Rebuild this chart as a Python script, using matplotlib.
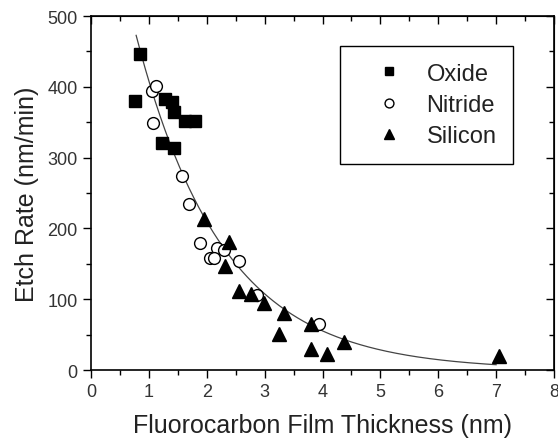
import numpy as np
import matplotlib
matplotlib.use("Agg")
import matplotlib.pyplot as plt
from matplotlib.ticker import MultipleLocator

plt.rcParams['font.family'] = ['Liberation Sans', 'DejaVu Sans']

oxide_x = [0.76, 0.85, 1.22, 1.28, 1.40, 1.43, 1.44, 1.63, 1.80]
oxide_y = [380, 447, 320, 383, 378, 364, 314, 352, 352]

nitride_x = [1.05, 1.13, 1.07, 1.57, 1.70, 1.89, 2.17, 2.29, 2.05, 2.12, 2.55, 2.87, 3.94]
nitride_y = [394, 401, 349, 274, 235, 179, 173, 169, 158, 158, 154, 106, 65]

silicon_x = [1.96, 2.38, 2.31, 2.55, 2.76, 2.99, 3.33, 3.25, 3.80, 3.80, 4.08, 4.37, 7.05]
silicon_y = [213, 181, 147, 111, 108, 94, 80, 51, 65, 30, 23, 39, 20]

fit_amp = 795.0
fit_len = 1.5
fit_range = (0.78, 7.0)

fig = plt.figure(figsize=(5.58, 4.39), dpi=100)
ax = fig.add_axes([91/558, 1 - 371/439, (554-91)/558, (371-17)/439])

xf = np.linspace(fit_range[0], fit_range[1], 300)
ax.plot(xf, fit_amp * np.exp(-xf / fit_len), color='#444444', lw=0.9, zorder=1)

ax.plot(oxide_x, oxide_y, 's', color='black', ms=8.5, ls='none', label='Oxide', zorder=3)
ax.plot(nitride_x, nitride_y, 'o', mfc='white', mec='black', mew=1.0, ms=8.5, ls='none', label='Nitride', zorder=3)
ax.plot(silicon_x, silicon_y, '^', color='black', ms=10, ls='none', label='Silicon', zorder=3)

ax.set_xlim(0, 8)
ax.set_ylim(0, 500)
ax.xaxis.set_major_locator(MultipleLocator(1))
ax.xaxis.set_minor_locator(MultipleLocator(0.5))
ax.yaxis.set_major_locator(MultipleLocator(100))
ax.yaxis.set_minor_locator(MultipleLocator(50))

ax.tick_params(which='both', direction='out', top=False, right=False, labelsize=13, width=1.0,
               colors='black', labelcolor='#333333')
ax.tick_params(which='major', length=6)
ax.tick_params(which='minor', length=3.5)

axt = ax.secondary_xaxis('top')
axt.xaxis.set_major_locator(MultipleLocator(1))
axt.xaxis.set_minor_locator(MultipleLocator(0.5))
axt.tick_params(which='both', direction='in', labeltop=False, width=1.0)
axt.tick_params(which='major', length=6)
axt.tick_params(which='minor', length=3.5)
axr = ax.secondary_yaxis('right')
axr.yaxis.set_major_locator(MultipleLocator(100))
axr.yaxis.set_minor_locator(MultipleLocator(50))
axr.tick_params(which='both', direction='in', labelright=False, width=1.0)
axr.tick_params(which='major', length=6)
axr.tick_params(which='minor', length=3.5)

for s in ax.spines.values():
    s.set_linewidth(1.2)

ax.set_xlabel('Fluorocarbon Film Thickness (nm)', fontsize=18, color='#222222', labelpad=9)
ax.set_ylabel('Etch Rate (nm/min)', fontsize=18, color='#222222', labelpad=6)

leg = ax.legend(loc='upper right', bbox_to_anchor=(513/558, 1 - 47/439),
                bbox_transform=fig.transFigure, frameon=True,
                fontsize=17, markerscale=0.75, handletextpad=0.25, labelspacing=0.4,
                borderpad=0.7, borderaxespad=0, fancybox=False, edgecolor='black',
                handlelength=2.7, framealpha=1)
leg.get_frame().set_linewidth(1.0)
for t in leg.get_texts():
    t.set_color('#222222')

fig.savefig('out.png', dpi=100)
